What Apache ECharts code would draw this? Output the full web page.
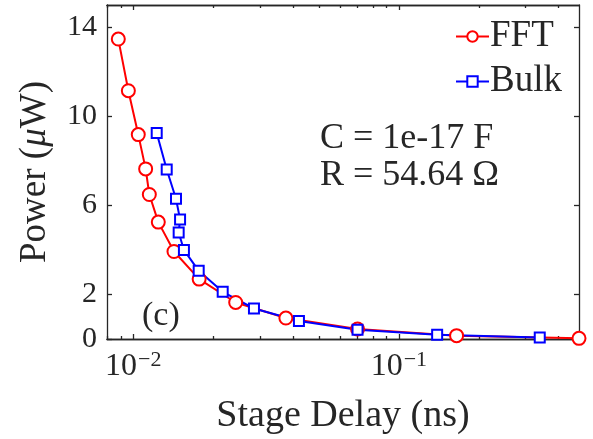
<!DOCTYPE html>
<html>
<head>
<meta charset="utf-8">
<script src="https://cdn.jsdelivr.net/npm/echarts@6/dist/echarts.min.js"></script>
<style>
  html, body { margin: 0; padding: 0; background: #fff; }
  #chart { width: 593px; height: 439px; }
</style>
</head>
<body>
<div id="chart"></div>
<script>
// Stage delay (ns) and power (µW) for the two estimation methods
const fftDelay = [0.00878, 0.00958, 0.01044, 0.01113, 0.01149, 0.01242, 0.01423, 0.0177, 0.0243, 0.03755, 0.0699, 0.165, 0.477];
const fftPower = [13.47, 11.15, 9.18, 7.64, 6.49, 5.25, 3.93, 2.69, 1.64, 0.94, 0.45, 0.15, 0.03];
const bulkDelay = [0.01225, 0.01336, 0.01448, 0.0150, 0.01482, 0.01551, 0.01763, 0.02171, 0.02847, 0.04205, 0.0699, 0.1394, 0.3394];
const bulkPower = [9.25, 7.61, 6.30, 5.37, 4.78, 4.00, 3.06, 2.12, 1.37, 0.81, 0.42, 0.19, 0.07];

// Axis ranges and ticks
const xRange = [0.00796, 0.477];
const yRange = [0, 15];
const xMajorTicks = [0.01, 0.1];
const xMinorTicks = [0.008, 0.009, 0.02, 0.03, 0.04, 0.05, 0.06, 0.07, 0.08, 0.09, 0.2, 0.3, 0.4];
const yTicks = [0, 2, 6, 10, 14];

const seriesNames = ['FFT', 'Bulk'];
const noteLines = ['C = 1e-17 F', 'R = 54.64 Ω'];
const panelTag = '(c)';

const FONT = 'Liberation Serif';
const INK = '#262626';

const zip = (xs, ys) => xs.map((x, i) => [x, ys[i]]);

function logAxis(position, ticks, len, withLabels) {
  return {
    type: 'log', logBase: 10, position: position,
    min: xRange[0], max: xRange[1],
    axisLine: { show: true, onZero: false, lineStyle: { color: INK, width: 1.3 } },
    axisTick: { show: true, inside: true, length: len, customValues: ticks, lineStyle: { color: INK, width: 1.3 } },
    axisLabel: withLabels ? {
      show: true, customValues: xMajorTicks, margin: 10,
      formatter: v => '{b|10}{e|−' + Math.round(-Math.log10(v)) + '}',
      rich: {
        b: { fontFamily: FONT, fontSize: 32, color: INK },
        e: { fontFamily: FONT, fontSize: 22, color: INK, padding: [0, 0, 14, 1] }
      }
    } : { show: false },
    splitLine: { show: false }, minorTick: { show: false }, minorSplitLine: { show: false }
  };
}

function valAxis(position, withLabels) {
  return {
    type: 'value', position: position, min: yRange[0], max: yRange[1],
    axisLine: { show: true, onZero: false, lineStyle: { color: INK, width: 1.3 } },
    axisTick: { show: true, inside: true, length: 5, customValues: yTicks, lineStyle: { color: INK, width: 1.3 } },
    axisLabel: withLabels ? {
      show: true, customValues: yTicks, margin: 10,
      fontFamily: FONT, fontSize: 30, color: INK
    } : { show: false },
    splitLine: { show: false }
  };
}

const xBottom = logAxis('bottom', xMajorTicks, 5, true);
xBottom.name = 'Stage Delay (ns)';
xBottom.nameLocation = 'middle';
xBottom.nameGap = 58;
xBottom.nameTextStyle = { fontFamily: FONT, fontSize: 38, color: INK };

const yLeft = valAxis('left', true);
yLeft.name = 'Power ({mu|μ}W)';
yLeft.nameLocation = 'middle';
yLeft.nameGap = 53;
yLeft.nameTextStyle = {
  fontFamily: FONT, fontSize: 37, color: INK,
  rich: { mu: { fontFamily: FONT, fontSize: 37, fontStyle: 'italic', color: INK } }
};

const chart = echarts.init(document.getElementById('chart'), null, { renderer: 'canvas' });
chart.setOption({
  animation: false,
  backgroundColor: '#ffffff',
  grid: { left: 107, right: 14, top: 5, bottom: 100, containLabel: false, outerBoundsMode: 'none' },
  xAxis: [
    xBottom,
    logAxis('bottom', xMinorTicks, 3, false),
    logAxis('top', xMajorTicks, 5, false),
    logAxis('top', xMinorTicks, 3, false)
  ],
  yAxis: [yLeft, valAxis('right', false)],
  legend: {
    orient: 'vertical', left: 455, top: 18, padding: 0,
    itemWidth: 33, itemHeight: 13, itemGap: 8,
    textStyle: { fontFamily: FONT, fontSize: 37, color: INK, padding: [0, 0, 0, -4] },
    data: seriesNames
  },
  graphic: [
    { type: 'text', left: 320, top: 121, style: { text: noteLines[0], fontFamily: FONT, fontSize: 36, fill: INK } },
    { type: 'text', left: 320, top: 158, style: { text: noteLines[1], fontFamily: FONT, fontSize: 36, fill: INK } },
    { type: 'text', left: 142, top: 299, style: { text: panelTag, fontFamily: FONT, fontSize: 34, fill: INK } }
  ],
  series: [
    {
      name: seriesNames[0], type: 'line', xAxisIndex: 0, yAxisIndex: 0,
      data: zip(fftDelay, fftPower),
      symbol: 'circle', symbolSize: 13,
      lineStyle: { color: '#ff0000', width: 2 },
      itemStyle: { color: '#ffffff', borderColor: '#ff0000', borderWidth: 2 },
      emphasis: { disabled: true }
    },
    {
      name: seriesNames[1], type: 'line', xAxisIndex: 0, yAxisIndex: 0,
      data: zip(bulkDelay, bulkPower),
      symbol: 'rect', symbolSize: 10,
      lineStyle: { color: '#0000ff', width: 2 },
      itemStyle: { color: '#ffffff', borderColor: '#0000ff', borderWidth: 2 },
      emphasis: { disabled: true }
    }
  ]
});
</script>
</body>
</html>
